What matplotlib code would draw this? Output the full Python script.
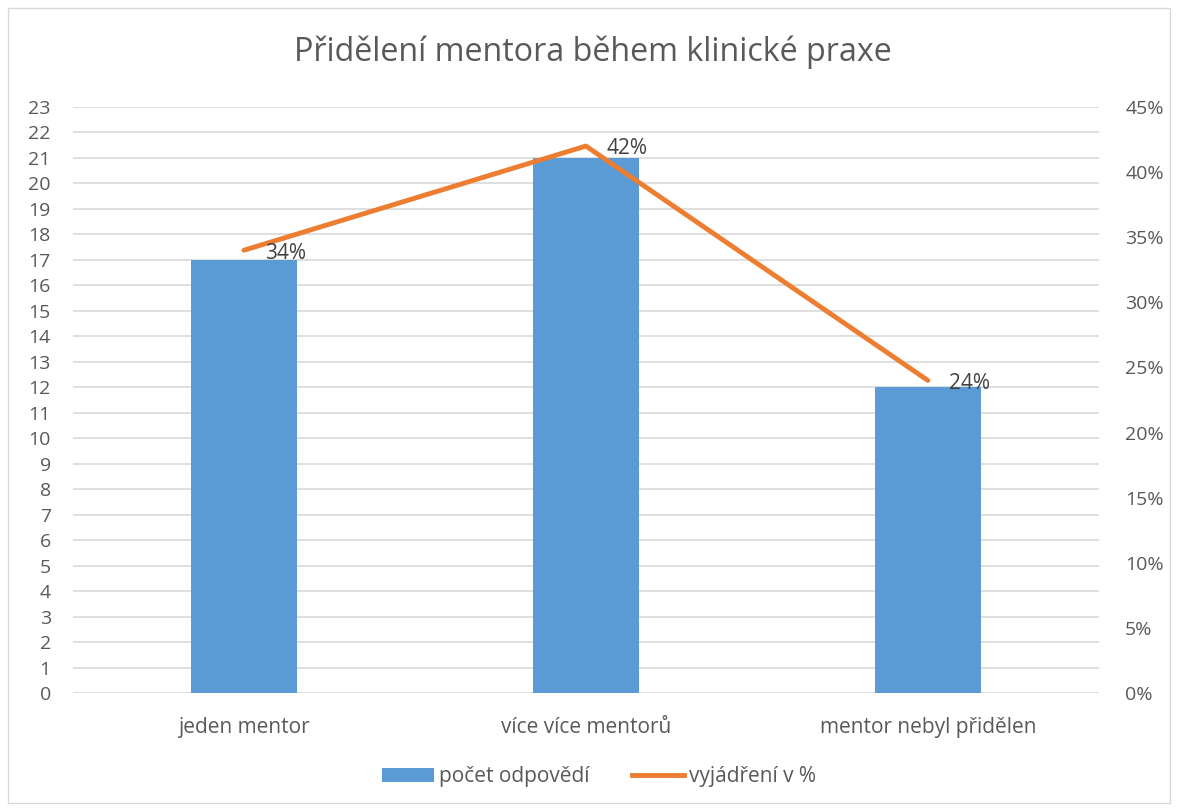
import matplotlib.pyplot as plt
from matplotlib.patches import Rectangle, Patch
from matplotlib.lines import Line2D
from matplotlib.ticker import FuncFormatter, MultipleLocator

plt.rcParams['font.family'] = ['Open Sans', 'DejaVu Sans']

categories = ['jeden mentor', 'více více mentorů', 'mentor nebyl přidělen']
counts = [17, 21, 12]
percents = [0.34, 0.42, 0.24]

bar_color = '#5B9BD5'
line_color = '#ED7D31'
text_color = '#595959'
grid_color = '#D9D9D9'

fig = plt.figure(figsize=(11.79, 8.11), dpi=100)
ax = fig.add_axes([0.0619, 0.1455, 0.8701, 0.7226])
ax2 = ax.twinx()

x = list(range(len(categories)))
ax.bar(x, counts, width=0.31, color=bar_color, zorder=2)
ax.set_xlim(-0.5, 2.5)
ax.set_ylim(0, 23)
ax.yaxis.set_major_locator(MultipleLocator(1))
ax.grid(axis='y', color=grid_color, linewidth=1.2, zorder=0)
ax.set_axisbelow(True)
ax.set_xticks(x)
ax.set_xticklabels(categories, fontsize=15)

ax2.plot(x, percents, color=line_color, linewidth=3.5, solid_capstyle='round', zorder=3)
ax2.set_ylim(0, 0.45)
ax2.yaxis.set_major_locator(MultipleLocator(0.05))
ax2.yaxis.set_major_formatter(FuncFormatter(lambda v, p: f'{v*100:.0f}%'))
for xi, p in zip(x, percents):
    ax2.annotate(f'{p*100:.0f}%', (xi, p), xytext=(15, -2), textcoords='offset points',
                 ha='left', va='center', fontsize=15, color='#404040')

for a in (ax, ax2):
    for s in a.spines.values():
        s.set_visible(False)
    a.tick_params(length=0, labelsize=14, colors=text_color)
ax.tick_params(axis='x', labelsize=15, pad=17)
ax.tick_params(axis='y', pad=16)
ax2.tick_params(axis='y', pad=19)

fig.text(0.503, 0.935, 'Přidělení mentora během klinické praxe', ha='center', va='center',
         fontsize=23.2, color=text_color)

handles = [Patch(facecolor=bar_color, label='počet odpovědí'),
           Line2D([0], [0], color=line_color, linewidth=3.5, label='vyjádření v %')]
leg = fig.legend(handles=handles, loc='center', bbox_to_anchor=(0.508, 0.042), ncol=2,
                 frameon=False, fontsize=15, handlelength=2.5, handletextpad=0.25,
                 columnspacing=2.0, labelcolor=text_color)

fig.patches.append(Rectangle((8 / 1179, 8 / 811), 1162 / 1179, 795 / 811, transform=fig.transFigure,
                             fill=False, edgecolor='#D9D9D9', linewidth=1))

fig.savefig('out.png', dpi=100)
